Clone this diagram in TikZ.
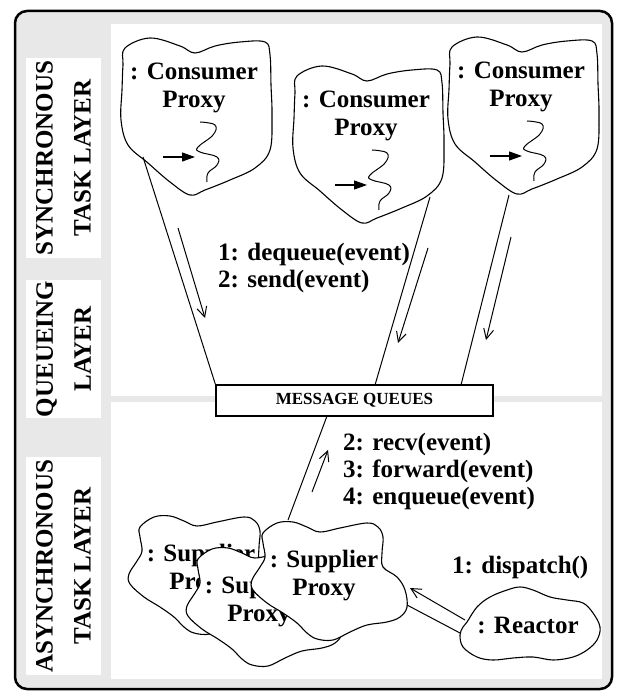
\documentclass[tikz,border=0pt]{standalone}
\usepackage{fontspec}
\setmainfont{Liberation Serif}
\usetikzlibrary{arrows.meta, positioning}
\definecolor{framegrey}{HTML}{E8E8E8}
\newcommand{\wgap}{\hspace{6pt}}
\tikzset{
  blob/.style={draw, fill=white, line width=1.1pt},
  blobtext/.style={font=\bfseries\fontsize{25}{28}\selectfont, align=center, inner sep=0pt},
  layerbox/.style={fill=white, rotate=90, align=center, inner sep=0pt, minimum height=75pt, font=\bfseries\fontsize{25}{38}\selectfont},
  msg/.style={font=\bfseries\fontsize{25}{27}\selectfont, align=left, anchor=west, inner sep=0pt},
  link/.style={line width=1pt},
  call/.style={line width=1pt, -{Straight Barb[length=10pt,width=10pt]}},
  consumerblob/.pic={
    \draw[blob] plot[smooth cycle, tension=0.6] coordinates {(-69,-68) (-44,-78) (-14,-70) (1,-63) (21,-70) (46,-74) (71,-74) (76,-61) (77,-31) (78,-1) (76,34) (61,52) (36,64) (11,74) (-4,79) (-24,66) (-46,47) (-66,29) (-73,4) (-72,-26) (-71,-51)};
    \draw[line width=1pt] plot[smooth, tension=0.7] coordinates {(6,6) (21,9) (19,19) (4,31) (6,36) (23,41) (23,49) (14,57) (13,66)};
    \draw[line width=1.2pt, -{Triangle[length=13pt,width=9pt]}] (-31,41) -- (1,41);
  },
  supplierblob/.pic={
    \draw[blob] plot[smooth cycle, tension=0.6] coordinates {(-61,-43) (-47,-53) (-31,-54) (-17,-49) (-4,-44) (16,-48) (43,-53) (54,-49) (59,-39) (58,-23) (59,-9) (73,1) (81,14) (83,31) (76,41) (63,46) (43,49) (26,56) (9,64) (-7,63) (-17,57) (-27,47) (-41,37) (-57,27) (-71,14) (-72,4) (-64,-9) (-59,-19) (-61,-33)};
  },
  reactorblob/.pic={
    \draw[blob] plot[smooth cycle, tension=0.6] coordinates {(-61,-3) (-51,-18) (-38,-28) (-21,-35) (-8,-38) (5,-35) (22,-28) (39,-25) (55,-22) (65,-12) (72,2) (69,15) (59,25) (45,32) (25,35) (5,32) (-15,33) (-35,35) (-51,32) (-65,22) (-68,10) (-65,2)};
  },
}
\begin{document}
\begin{tikzpicture}[x=1pt, y=-1pt]
  \useasboundingbox (0,0) rectangle (616,692);
  % frame and layers
  \draw[line width=2.5pt, rounded corners=12pt, fill=framegrey] (15,11) rectangle (612,689);
  \fill[white] (111,24) rectangle (602,396);
  \fill[white] (111,402) rectangle (602,679);
  \node[layerbox, minimum width=200pt] (sync) at (63.5,158) {SYNCHRONOUS\\TASK\wgap LAYER};
  \node[layerbox, minimum width=138pt] (queue) at (63.5,349) {QUEUEING\\LAYER};
  \node[layerbox, minimum width=218pt] (async) at (63.5,566) {ASYNCHRONOUS\\TASK\wgap LAYER};

  % consumer proxies
  \foreach \cx/\cy [count=\i] in {194/116, 366/144, 521/115}{
    \pic at (\cx,\cy) {consumerblob};
    \node[blobtext] (cp\i) at (\cx,\cy-28) {: Consumer\\Proxy};
  }

  % supplier proxies and reactor
  \foreach \cx/\cy [count=\i] in {201/570, 259/602, 324/576}{
    \pic at (\cx,\cy) {supplierblob};
    \node[blobtext] (sp\i) at (\cx,\cy) {: Supplier\\Proxy};
  }
  \pic at (528,625) {reactorblob};
  \node[blobtext] (re) at (528,625) {: Reactor};

  \node[draw, fill=white, line width=1.2pt, minimum width=277pt, minimum height=31pt, inner sep=0pt,
        font=\bfseries\fontsize{17}{17}\selectfont] (mq) at (354.5,400.5) {MESSAGE QUEUES};

  % where the links touch
  \foreach \n/\x/\y in {cf1/143/157, cf2/430/197, cf3/509/195, qa/375/385, qb/461/385,
                        qc/327/416, sf/288/520, rf/460/633, sr/407/605}
    \coordinate (\n) at (\x,\y);
  \draw[link] (cf1) -- (mq.north west);
  \draw[link] (cf2) -- (qa);
  \draw[link] (cf3) -- (qb);
  \draw[link] (qc) -- (sf);
  \draw[link] (rf) -- (sr);

  % messages
  \foreach \n/\x/\y in {a1/178/228, b1/205/318, a2/428/248, b2/398/343, a3/511/237, b3/486/340,
                        a4/312/492, b4/328/450, a5/465/620, b5/410/588}
    \coordinate (\n) at (\x,\y);
  \foreach \i in {1,...,5}
    \draw[call] (a\i) -- (b\i);

  \node[msg] (deq) at (218,268) {1: dequeue(event)\\2: send(event)};
  \node[msg] (recv) at (343,471) {2: recv(event)\\3: forward(event)\\4: enqueue(event)};
  \node[msg] (disp) at (452,567) {1: dispatch()};
\end{tikzpicture}
\end{document}
